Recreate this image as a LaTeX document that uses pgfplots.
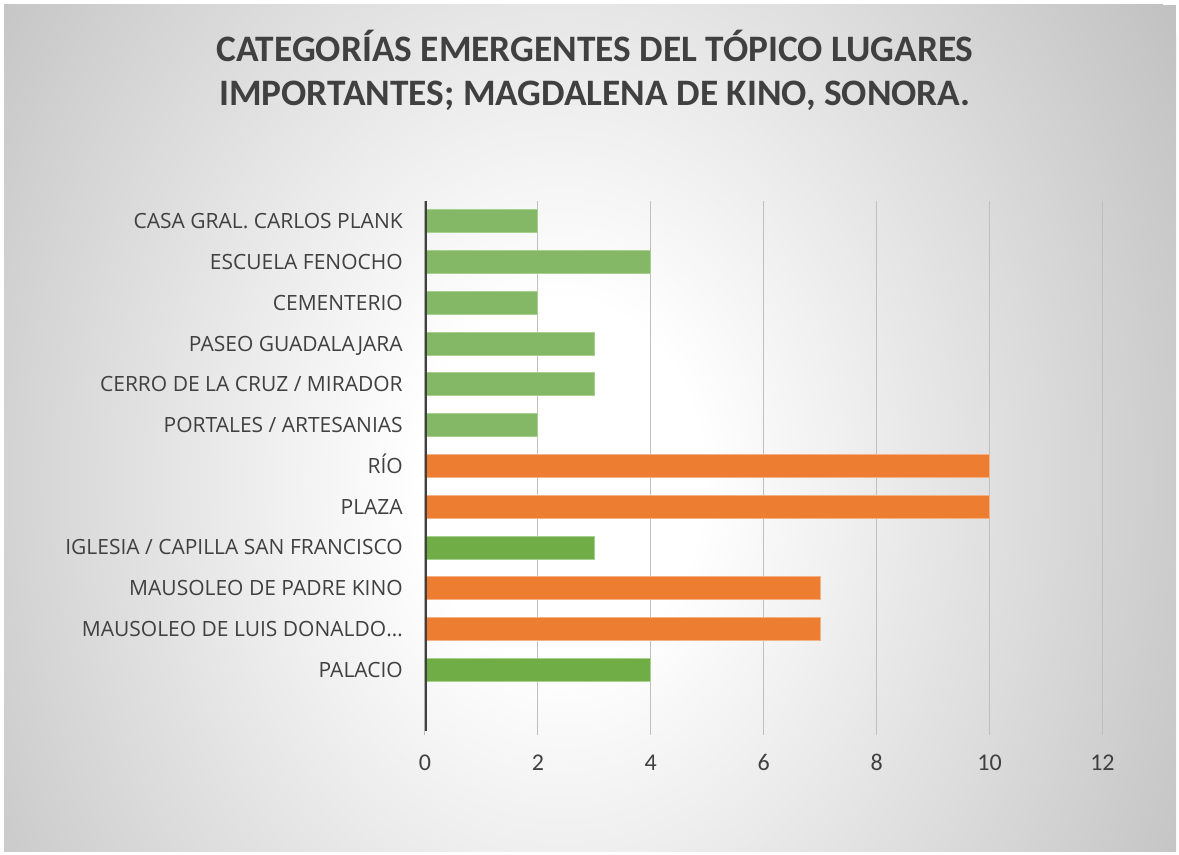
\documentclass[border=0pt]{standalone}
\usepackage{fontspec}
\setmainfont{Open Sans}
\newfontfamily\calibri{Carlito}
\usepackage{pgfplots}
\pgfplotsset{compat=1.18}
\definecolor{lgreen}{HTML}{85B866}
\definecolor{lgreenedge}{HTML}{A8D08D}
\definecolor{dgreen}{HTML}{70AD47}
\definecolor{dgreenedge}{HTML}{A8D08D}
\definecolor{orng}{HTML}{ED7D31}
\definecolor{orngedge}{HTML}{F4B183}
\definecolor{gridgray}{HTML}{BFBFBF}
\definecolor{axisdark}{HTML}{404040}
\definecolor{txtgray}{HTML}{404040}
\definecolor{bgout}{HTML}{C2C2C2}
\pgfdeclareradialshading{bgshade}{\pgfpointorigin}{color(0bp)=(white); color(5bp)=(white); color(25bp)=(bgout); color(50bp)=(bgout)}
\begin{document}
\begin{tikzpicture}[x=1pt,y=1pt]
\path (0,0) rectangle (884.25,641.25);
\begin{scope}
\clip (3,2.25) rectangle (882,637.5);
\fill[bgout] (3,2.25) rectangle (882,637.5);
\shade[shading=bgshade] (420,281.25) ellipse [x radius=532.5, y radius=675];
\end{scope}
\node[anchor=base, font=\calibri\bfseries\fontsize{28}{32}\selectfont, text=txtgray] at (446.25,594.75) {CATEGORÍAS EMERGENTES DEL TÓPICO LUGARES};
\node[anchor=base, font=\calibri\bfseries\fontsize{28}{32}\selectfont, text=txtgray] at (446.25,561.75) {IMPORTANTES; MAGDALENA DE KINO, SONORA.};
\begin{axis}[
  at={(318.75pt,93pt)}, anchor=south west,
  width=508.1pt, height=397.5pt, scale only axis,
  xmin=0, xmax=12, ymin=-1.5, ymax=11.5,
  xtick={0,2,...,12}, ytick={0,...,11},
  yticklabels={{PALACIO},{MAUSOLEO DE LUIS DONALDO…},{MAUSOLEO DE PADRE KINO},{IGLESIA / CAPILLA SAN FRANCISCO},{PLAZA},{RÍO},{PORTALES / ARTESANIAS},{CERRO DE LA CRUZ / MIRADOR},{PASEO GUADALAJARA},{CEMENTERIO},{ESCUELA FENOCHO},{CASA GRAL. CARLOS PLANK}},
  xmajorgrids, grid style={gridgray, line width=0.75pt},
  axis line style={draw=none},
  xtick pos=bottom, ytick pos=left,
  tick align=outside, major tick length=3pt,
  xtick style={gridgray, line width=0.75pt},
  ytick style={draw=none},
  /pgf/number format/assume math mode=true,
  xticklabel style={font=\calibri\fontsize{18}{21}\selectfont, text=txtgray, anchor=base, inner sep=0pt, yshift=-27pt},
  yticklabel style={font=\fontsize{15.75}{18}\selectfont, text=txtgray, anchor=base east, inner sep=0pt, xshift=-13.5pt, yshift=-5.6pt},
]
\addplot[xbar, bar width=17.25pt, bar shift=0pt, fill=lgreen, draw=lgreenedge, line width=0.75pt] coordinates {(2,11) (4,10) (2,9) (3,8) (3,7) (2,6)};
\addplot[xbar, bar width=17.25pt, bar shift=0pt, fill=dgreen, draw=dgreenedge, line width=0.75pt] coordinates {(3,3) (4,0)};
\addplot[xbar, bar width=17.25pt, bar shift=0pt, fill=orng, draw=orngedge, line width=0.75pt] coordinates {(10,5) (10,4) (7,2) (7,1)};
\draw[axisdark, line width=2.4pt] (rel axis cs:0,0) -- (rel axis cs:0,1);
\end{axis}
\end{tikzpicture}
\end{document}
